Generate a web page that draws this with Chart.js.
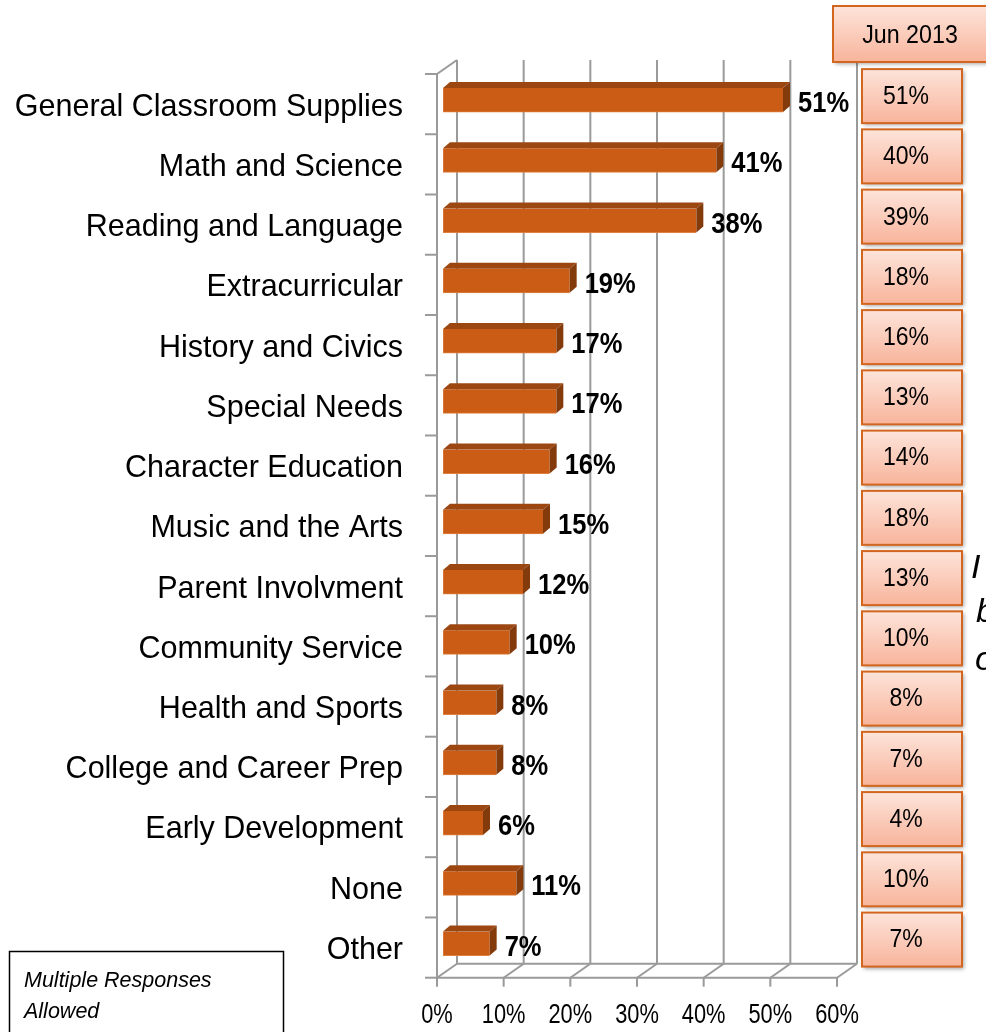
<!DOCTYPE html>
<html>
<head>
<meta charset="utf-8">
<script src="https://cdn.jsdelivr.net/npm/chart.js@4.4.1/dist/chart.umd.min.js"></script>
<style>
  html, body { margin: 0; padding: 0; background: #fff; }
  #wrap { width: 986px; height: 1032px; position: relative; overflow: hidden; }
</style>
</head>
<body>
<div id="wrap"><canvas id="chart" width="986" height="1032"></canvas></div>
<script>
// Datos del gráfico
const categories = [
  'General Classroom Supplies', 'Math and Science', 'Reading and Language',
  'Extracurricular', 'History and Civics', 'Special Needs', 'Character Education',
  'Music and the Arts', 'Parent Involvment', 'Community Service',
  'Health and Sports', 'College and Career Prep', 'Early Development', 'None', 'Other'
];
const currentValues = [51, 41, 38, 19, 17, 17, 16, 15, 12, 10, 8, 8, 6, 11, 7];
const jun2013Values = [51, 40, 39, 18, 16, 13, 14, 18, 13, 10, 8, 7, 4, 10, 7];
const compareLabel = 'Jun 2013';
const tickValues = [0, 10, 20, 30, 40, 50, 60];
const noteLines = ['Multiple Responses', 'Allowed'];

const FONT = "'Liberation Sans', Arial, sans-serif";

// Desplazamientos de profundidad (plano de barras -> pared frontal / trasera)
const FRONT = { dx: -6, dy: 4 };
const BACK = { dx: 14, dy: -10 };
const BAR_DEPTH = { dx: 7, dy: -6 };

function line(ctx, x1, y1, x2, y2) {
  ctx.beginPath();
  ctx.moveTo(x1, y1);
  ctx.lineTo(x2, y2);
  ctx.stroke();
}

function poly(ctx, pts, fill) {
  ctx.beginPath();
  ctx.moveTo(pts[0][0], pts[0][1]);
  for (let i = 1; i < pts.length; i++) ctx.lineTo(pts[i][0], pts[i][1]);
  ctx.closePath();
  ctx.fillStyle = fill;
  ctx.fill();
}

// Texto algo estrecho (como Arial Narrow)
function narrowText(ctx, text, x, y, font, sx, align) {
  ctx.save();
  ctx.font = font;
  ctx.textAlign = align;
  ctx.textBaseline = 'middle';
  ctx.translate(x, y);
  ctx.scale(sx, 1);
  ctx.fillText(text, 0, 0);
  ctx.restore();
}

function box(ctx, x, y, w, h) {
  ctx.save();
  ctx.shadowColor = 'rgba(0,0,0,0.35)';
  ctx.shadowBlur = 4;
  ctx.shadowOffsetX = 2;
  ctx.shadowOffsetY = 2;
  const g = ctx.createLinearGradient(0, y, 0, y + h);
  g.addColorStop(0, '#fde4da');
  g.addColorStop(1, '#f8b49b');
  ctx.fillStyle = g;
  ctx.fillRect(x, y, w, h);
  ctx.restore();
  ctx.strokeStyle = '#d2661f';
  ctx.lineWidth = 2;
  ctx.strokeRect(x, y, w, h);
}

// Plugin para el efecto 3D, etiquetas y cajas laterales
const threeD = {
  id: 'threeD',
  beforeDatasetsDraw(chart) {
    const ctx = chart.ctx;
    const xs = chart.scales.x;
    const top = chart.chartArea.top, bottom = chart.chartArea.bottom;
    const x0 = xs.getPixelForValue(0);
    ctx.save();
    ctx.strokeStyle = '#9a9a9a';
    ctx.lineWidth = 2;
    // pared trasera y suelo
    tickValues.forEach(v => {
      const x = xs.getPixelForValue(v);
      line(ctx, x + BACK.dx, top + BACK.dy, x + BACK.dx, bottom + BACK.dy);
      line(ctx, x + BACK.dx, bottom + BACK.dy, x + FRONT.dx, bottom + FRONT.dy);
      line(ctx, x + FRONT.dx, bottom + FRONT.dy, x + FRONT.dx, bottom + FRONT.dy + 9);
    });
    const x60 = xs.getPixelForValue(tickValues[tickValues.length - 1]);
    line(ctx, x0 + BACK.dx, bottom + BACK.dy, x60 + BACK.dx, bottom + BACK.dy);
    line(ctx, x0 + FRONT.dx, bottom + FRONT.dy, x60 + FRONT.dx, bottom + FRONT.dy);
    // pared izquierda
    line(ctx, x0 + FRONT.dx, top + FRONT.dy, x0 + FRONT.dx, bottom + FRONT.dy);
    line(ctx, x0 + FRONT.dx, top + FRONT.dy, x0 + BACK.dx, top + BACK.dy);
    const band = (bottom - top) / categories.length;
    for (let i = 0; i <= categories.length; i++) {
      const y = top + FRONT.dy + i * band;
      line(ctx, x0 + FRONT.dx - 12, y, x0 + FRONT.dx, y);
    }
    ctx.restore();

    // etiquetas del eje X (estrechas)
    ctx.save();
    ctx.fillStyle = '#000';
    tickValues.forEach(v => {
      narrowText(ctx, v + '%', xs.getPixelForValue(v) + FRONT.dx, 1015, '28px ' + FONT, 0.78, 'center');
    });
    ctx.restore();
  },
  afterDatasetsDraw(chart) {
    const ctx = chart.ctx;
    const meta = chart.getDatasetMeta(0);
    ctx.save();
    meta.data.forEach((bar, i) => {
      const t = bar.y - bar.height / 2, b = bar.y + bar.height / 2;
      poly(ctx, [[bar.base, t], [bar.x, t], [bar.x + BAR_DEPTH.dx, t + BAR_DEPTH.dy], [bar.base + BAR_DEPTH.dx, t + BAR_DEPTH.dy]], '#9c4712');
      poly(ctx, [[bar.x, t], [bar.x + BAR_DEPTH.dx, t + BAR_DEPTH.dy], [bar.x + BAR_DEPTH.dx, b + BAR_DEPTH.dy], [bar.x, b]], '#833b0c');
      // etiqueta de valor
      ctx.fillStyle = '#000';
      narrowText(ctx, currentValues[i] + '%', bar.x + 15, bar.y + 4, 'bold 29px ' + FONT, 0.88, 'left');
      // caja Jun 2013
      box(ctx, 862, bar.y - 31, 100, 54);
      ctx.fillStyle = '#000';
      narrowText(ctx, jun2013Values[i] + '%', 906, bar.y - 3, '25px ' + FONT, 0.92, 'center');
    });
    // cabecera
    box(ctx, 833, 6, 160, 56);
    ctx.fillStyle = '#000';
    narrowText(ctx, compareLabel, 910, 36, '25px ' + FONT, 0.93, 'center');
    // nota inferior
    ctx.strokeStyle = '#000';
    ctx.lineWidth = 1.5;
    ctx.strokeRect(9.5, 951.5, 274, 100);
    ctx.font = 'italic 21.5px ' + FONT;
    ctx.textAlign = 'left';
    ctx.textBaseline = 'alphabetic';
    ctx.fillText(noteLines[0], 24, 987);
    ctx.fillText(noteLines[1], 24, 1018);
    // texto cortado en el borde derecho
    ctx.font = 'italic 34px ' + FONT;
    ctx.fillText('I', 971, 578);
    ctx.fillText('b', 976, 622);
    ctx.fillText('o', 975, 670);
    ctx.restore();
  }
};

const ctx = document.getElementById('chart').getContext('2d');
new Chart(ctx, {
  type: 'bar',
  data: {
    labels: categories,
    datasets: [{
      data: currentValues,
      backgroundColor: '#cb5c16',
      borderColor: '#e0803f',
      borderWidth: { top: 0, right: 0, bottom: 1, left: 1 },
      borderSkipped: false,
      barThickness: 24
    }]
  },
  options: {
    responsive: false,
    animation: false,
    devicePixelRatio: 1,
    indexAxis: 'y',
    layout: { padding: { left: 0, right: 143, top: 70, bottom: 0 } },
    plugins: { legend: { display: false }, tooltip: { enabled: false } },
    scales: {
      x: {
        min: 0,
        max: 60,
        ticks: { stepSize: 10, display: false },
        grid: { display: false, drawTicks: false },
        border: { display: false },
        afterFit: s => { s.height = 57; }
      },
      y: {
        ticks: {
          color: '#000',
          font: { family: FONT, size: 30.5 },
          padding: 40,
          labelOffset: 7
        },
        grid: { display: false, drawTicks: false },
        border: { display: false },
        afterFit: s => { s.width = 443; }
      }
    }
  },
  plugins: [threeD]
});
</script>
</body>
</html>
